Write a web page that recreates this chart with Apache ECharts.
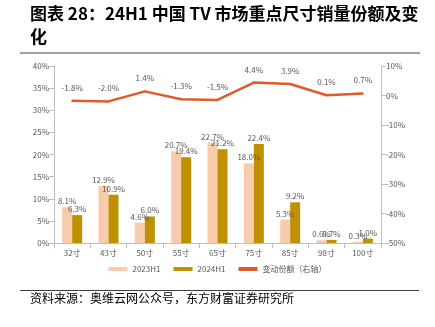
<!DOCTYPE html>
<html><head><meta charset="utf-8">
<script src="https://cdn.jsdelivr.net/npm/echarts@6/dist/echarts.min.js"></script>
<style>html,body{margin:0;padding:0;background:#fff}#c{width:435px;height:327px}</style>
</head><body><div id="c"></div>
<script>
var categories = ['32寸','43寸','50寸','55寸','65寸','75寸','85寸','98寸','100寸'];
var share2023 = [8.1, 12.9, 4.6, 20.7, 22.7, 18.0, 5.3, 0.6, 0.3];
var share2024 = [6.3, 10.9, 6.0, 19.4, 21.2, 22.4, 9.2, 0.7, 1.0];
var change = [-1.8, -2.0, 1.4, -1.3, -1.5, 4.4, 3.9, 0.1, 0.7];
var seriesNames = ['2023H1', '2024H1', '变动份额（右轴）'];

var chart = echarts.init(document.getElementById('c'));
var gray = '#595959';
var lbl = {show:true, position:'top', fontSize:8, color:gray, distance:2, formatter:function(p){return p.value.toFixed(1)+'%';}};
chart.setOption({
  animation:false,
  textStyle:{fontFamily:'"Noto Sans CJK SC", sans-serif'},
  graphic:[
    {type:'text', left:30, top:5, style:{text:'图表 28：24H1 中国 TV 市场重点尺寸销量份额及变', font:'bold 17px "Noto Sans CJK SC"', fill:'#000'}},
    {type:'text', left:30, top:28, style:{text:'化', font:'bold 17px "Noto Sans CJK SC"', fill:'#000'}},
    {type:'line', shape:{x1:20,y1:53,x2:420,y2:53}, style:{stroke:'#404040', lineWidth:1}},
    {type:'line', shape:{x1:20,y1:290.5,x2:419,y2:290.5}, style:{stroke:'#404040', lineWidth:1}},
    {type:'text', left:30, top:292, style:{text:'资料来源：奥维云网公众号，东方财富证券研究所', font:'12px "Noto Sans CJK SC"', fill:'#000'}}
  ],
  grid:{left:54, right:54, top:66, bottom:84},
  legend:{bottom:49, left:'center', itemWidth:19, itemHeight:4, itemGap:13, textStyle:{fontSize:8, color:gray},
    data:[{name:seriesNames[0], icon:'rect'},{name:seriesNames[1], icon:'rect'},{name:seriesNames[2], icon:'rect'}]},
  xAxis:{type:'category', data:categories,
    axisLine:{lineStyle:{color:'#BFBFBF'}}, axisTick:{show:true, lineStyle:{color:'#BFBFBF'}},
    axisLabel:{fontSize:8, color:gray, margin:6}},
  yAxis:[
    {type:'value', min:0, max:40, interval:5, position:'left',
     axisLine:{show:true, lineStyle:{color:'#BFBFBF'}}, axisTick:{show:true, lineStyle:{color:'#BFBFBF'}},
     splitLine:{show:false}, axisLabel:{fontSize:8, color:gray, formatter:'{value}%', margin:5}},
    {type:'value', min:-50, max:10, interval:10, position:'right',
     axisLine:{show:true, lineStyle:{color:'#BFBFBF'}}, axisTick:{show:true, lineStyle:{color:'#BFBFBF'}},
     splitLine:{show:false}, axisLabel:{fontSize:8, color:gray, formatter:'{value}%', margin:5}}
  ],
  series:[
    {name:seriesNames[0], type:'bar', data:share2023, barWidth:10, barGap:'0%', itemStyle:{color:'#F8CBAD'}, label:lbl},
    {name:seriesNames[1], type:'bar', data:share2024, barWidth:10, barGap:'0%', itemStyle:{color:'#BF9000'}, label:lbl},
    {name:seriesNames[2], type:'line', yAxisIndex:1, data:change, symbol:'circle', symbolSize:2, showSymbol:true,
     lineStyle:{color:'#E15A2B', width:2.5}, itemStyle:{color:'#E15A2B'},
     labelLayout:{hideOverlap:false},
     label:{show:true, position:'top', fontSize:8, color:gray, distance:8, formatter:function(p){return p.value.toFixed(1)+'%';}}}
  ]
});
</script></body></html>
